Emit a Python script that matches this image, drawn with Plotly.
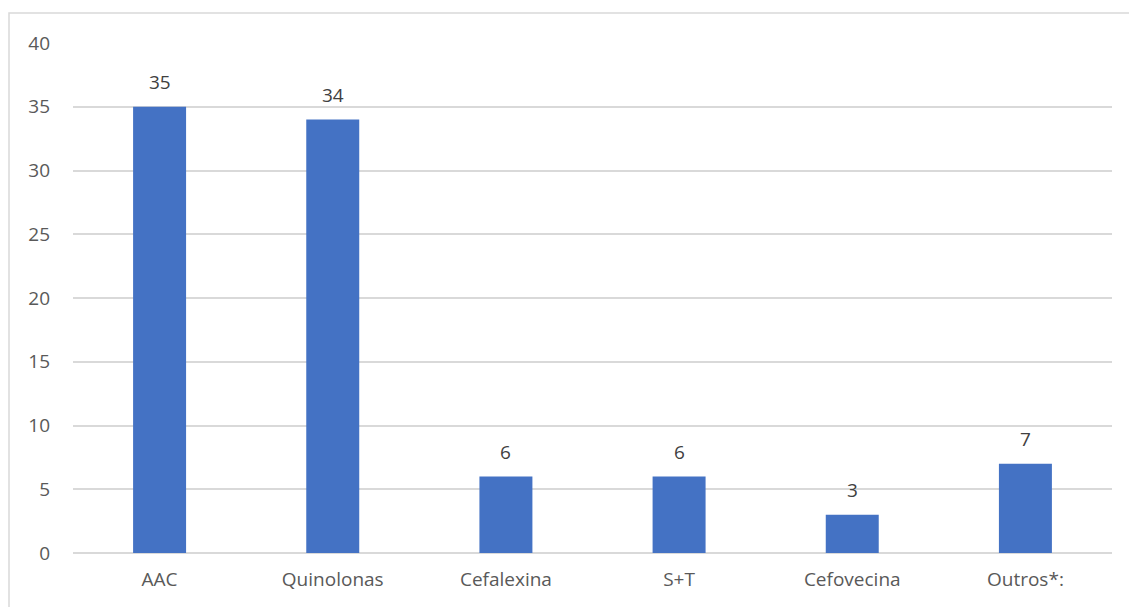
import plotly.graph_objects as go

categories = ["AAC", "Quinolonas", "Cefalexina", "S+T", "Cefovecina", "Outros*:"]
values = [35, 34, 6, 6, 3, 7]
y_ticks = [0, 5, 10, 15, 20, 25, 30, 35, 40]

W, H = 1129, 607
ml, mr, mt, mb = 73, 17, 43, 54
pw, ph = W - ml - mr, H - mt - mb
FONT = "Open Sans"

fig = go.Figure(go.Bar(
    x=categories, y=values,
    marker=dict(color="#4472C4", line=dict(width=0)),
))

for c, v in zip(categories, values):
    fig.add_annotation(x=c, y=v, text=str(v), showarrow=False,
                       yanchor="middle", yshift=25,
                       font=dict(family=FONT, size=19, color="#404040"))

fig.update_layout(
    width=W, height=H,
    margin=dict(l=ml, r=mr, t=mt, b=mb),
    paper_bgcolor="white", plot_bgcolor="white",
    bargap=0.694,
    showlegend=False,
    font=dict(family=FONT, color="#595959", size=19),
    xaxis=dict(showgrid=False, showline=False, ticks="", ticklabelstandoff=13,
               tickfont=dict(size=19, color="#595959")),
    yaxis=dict(range=[0, 40], tickvals=y_ticks, showgrid=True, gridcolor="#D9D9D9",
               gridwidth=1.5, zeroline=True, zerolinecolor="#D9D9D9", zerolinewidth=1.5,
               showline=False, ticks="", ticklabelstandoff=22,
               tickfont=dict(size=19, color="#595959")),
    shapes=[dict(type="rect", xref="paper", yref="paper",
                 x0=(9 - ml) / pw, x1=(W + 5 - ml) / pw,
                 y0=(H - mb - (H + 5)) / ph, y1=(H - mb - 13) / ph,
                 line=dict(color="#D9D9D9", width=1.5), fillcolor="rgba(0,0,0,0)")],
)

fig.write_html("out.html")
